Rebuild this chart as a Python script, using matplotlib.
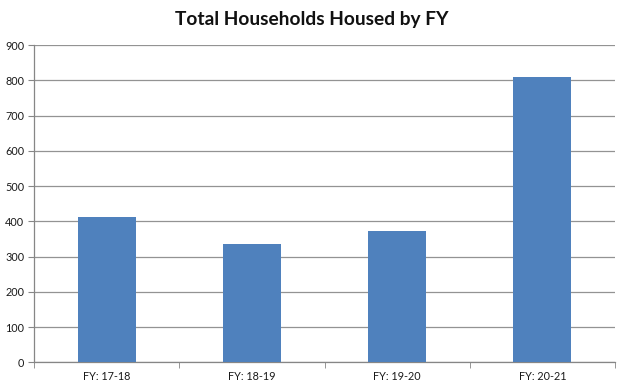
import matplotlib
matplotlib.use("Agg")
import matplotlib.pyplot as plt
import numpy as np

categories = ["FY: 17-18", "FY: 18-19", "FY: 19-20", "FY: 20-21"]
values = [411, 335, 372, 810]
yticks = [0, 100, 200, 300, 400, 500, 600, 700, 800, 900]

plt.rcParams['font.family'] = ['Lato', 'DejaVu Sans']

fig = plt.figure(figsize=(6.24, 3.87), dpi=100)
ax = fig.add_axes([34/624, 1-362.3/387, (615-34)/624, (362.3-45)/387])

x = np.arange(len(categories))
ax.bar(x, values, width=0.4, color="#4F81BD", zorder=3)
ax.set_xlim(-0.5, len(categories)-0.5)
ax.set_ylim(0, 900)
ax.set_yticks(yticks)
ax.set_yticklabels([str(t) for t in yticks], fontsize=7.8, color="#1a1a1a")
ax.set_xticks(x)
ax.set_xticklabels(categories, fontsize=7.8, color="#1a1a1a")
ax.tick_params(axis='x', length=0, pad=6)
ax.set_xticks(np.arange(-0.5, len(categories)), minor=True)
ax.tick_params(axis='x', which='minor', length=4, color="#868686")
ax.tick_params(axis='y', length=4, color="#868686", pad=3)
ax.grid(axis='y', color="#939393", linewidth=0.9, zorder=0)
for s in ['top', 'right']:
    ax.spines[s].set_visible(False)
for s in ['left', 'bottom']:
    ax.spines[s].set_color("#868686")
    ax.spines[s].set_linewidth(0.9)

fig.text(0.5, 1-19/387, "Total Households Housed by FY", ha='center', va='center',
         fontsize=13.8, fontweight='bold', color="#111111")

fig.savefig("out.png", dpi=100)
